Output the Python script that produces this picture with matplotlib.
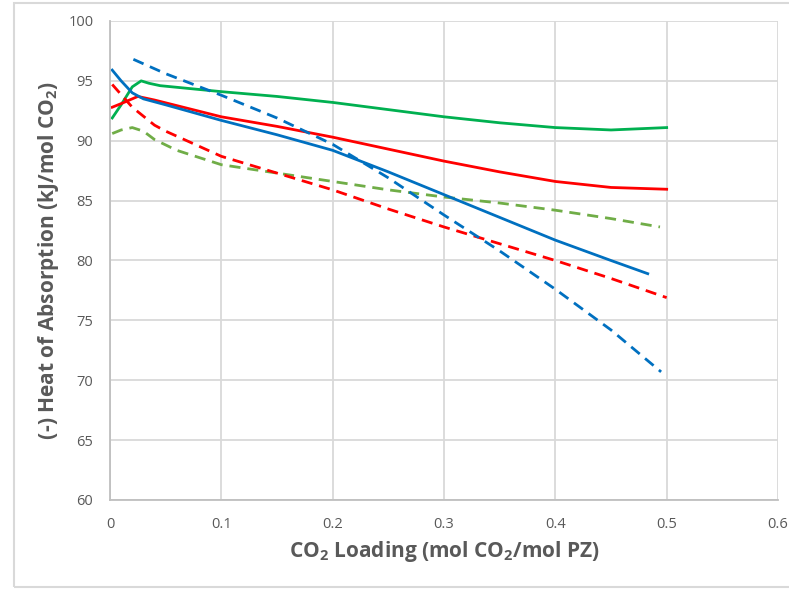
import matplotlib.pyplot as plt
from matplotlib.patches import Rectangle

plt.rcParams['font.family'] = ['Open Sans', 'DejaVu Sans']

# Blue solid
blue_x = [0.002, 0.01, 0.02, 0.03, 0.05, 0.1, 0.15, 0.2, 0.25, 0.3, 0.35, 0.4, 0.45, 0.483]
blue_y = [95.9, 95.0, 94.0, 93.5, 93.0, 91.7, 90.5, 89.2, 87.4, 85.5, 83.6, 81.7, 80.0, 78.9]

# Blue dashed
blued_x = [0.021, 0.05, 0.1, 0.15, 0.2, 0.25, 0.3, 0.35, 0.4, 0.45, 0.495]
blued_y = [96.8, 95.6, 93.8, 91.9, 89.7, 86.9, 83.8, 80.8, 77.6, 74.2, 70.7]

# Red solid
red_x = [0.002, 0.01, 0.025, 0.04, 0.1, 0.15, 0.2, 0.25, 0.3, 0.35, 0.4, 0.45, 0.5]
red_y = [92.8, 93.1, 93.7, 93.4, 92.0, 91.2, 90.3, 89.3, 88.3, 87.4, 86.6, 86.1, 85.95]

# Red dashed
redd_x = [0.002, 0.02, 0.04, 0.05, 0.1, 0.15, 0.2, 0.25, 0.3, 0.35, 0.4, 0.45, 0.5]
redd_y = [94.7, 92.8, 91.3, 90.8, 88.7, 87.3, 85.9, 84.3, 82.8, 81.4, 80.0, 78.5, 76.9]

# Green solid
green_x = [0.002, 0.01, 0.02, 0.028, 0.035, 0.045, 0.1, 0.15, 0.2, 0.25, 0.3, 0.35, 0.4, 0.45, 0.5]
green_y = [91.9, 93.0, 94.5, 95.0, 94.8, 94.6, 94.1, 93.7, 93.2, 92.6, 92.0, 91.5, 91.1, 90.9, 91.1]

# Green dashed
greend_x = [0.002, 0.01, 0.02, 0.03, 0.04, 0.06, 0.1, 0.15, 0.2, 0.25, 0.3, 0.35, 0.4, 0.45, 0.494]
greend_y = [90.6, 90.9, 91.1, 90.8, 90.1, 89.2, 88.0, 87.3, 86.6, 85.9, 85.3, 84.8, 84.2, 83.5, 82.8]

x_ticks = [0, 0.1, 0.2, 0.3, 0.4, 0.5, 0.6]
x_labels = ['0', '0.1', '0.2', '0.3', '0.4', '0.5', '0.6']
y_ticks = [60, 65, 70, 75, 80, 85, 90, 95, 100]

fig = plt.figure(figsize=(7.89, 5.90), dpi=100)
ax = fig.add_axes([110 / 789, 1 - 500 / 590, 668 / 789, 479 / 590])

# light frame round the chart (right edge falls outside the picture)
fig.patches.append(Rectangle((14 / 789, 3 / 590), 800 / 789, 584 / 590,
                             transform=fig.transFigure, fill=False,
                             edgecolor='#D9D9D9', linewidth=1.5))

lw = 2.0
dash = (4, 2.5)
ax.plot(green_x, green_y, color='#00B050', lw=lw)
ax.plot(greend_x, greend_y, color='#70AD47', lw=lw, dashes=dash)
ax.plot(red_x, red_y, color='#FF0000', lw=lw)
ax.plot(redd_x, redd_y, color='#FF0000', lw=lw, dashes=dash)
ax.plot(blue_x, blue_y, color='#0070C0', lw=lw)
ax.plot(blued_x, blued_y, color='#0070C0', lw=lw, dashes=dash)

ax.set_xlim(0, 0.6)
ax.set_ylim(60, 100)
ax.set_xticks(x_ticks)
ax.set_xticklabels(x_labels)
ax.set_yticks(y_ticks)
ax.grid(True, color='#D9D9D9', linewidth=1.3)
ax.set_axisbelow(True)
for side in ['top', 'right']:
    ax.spines[side].set_visible(False)
for side in ['left', 'bottom']:
    ax.spines[side].set_color('#BFBFBF')
    ax.spines[side].set_linewidth(1.3)
ax.tick_params(length=0, labelsize=10.5, labelcolor='#595959', pad=12)

ax.set_xlabel(r'CO$\mathregular{_2}$ Loading (mol CO$\mathregular{_2}$/mol PZ)',
              fontsize=15, fontweight='bold', color='#595959', labelpad=5)
ax.set_ylabel(r'(-) Heat of Absorption (kJ/mol CO$\mathregular{_2}$)',
              fontsize=15, fontweight='bold', color='#595959', labelpad=5)

fig.savefig('out.png', dpi=100)
